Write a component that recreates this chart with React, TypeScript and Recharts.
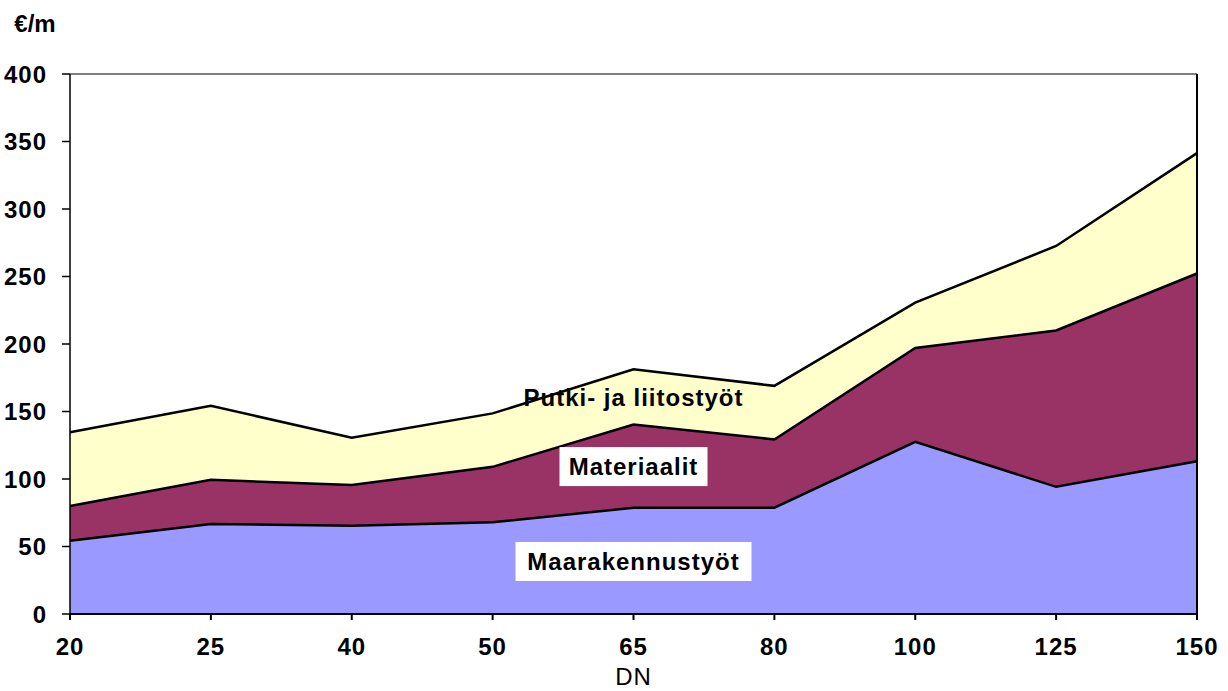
import React from "react";
import {
  AreaChart,
  Area,
  XAxis,
  YAxis,
  ReferenceLine,
  ReferenceDot,
} from "recharts";

const categories = ["20", "25", "40", "50", "65", "80", "100", "125", "150"];
const maarakennustyot = [54.3, 66.6, 65.4, 67.9, 78.7, 78.7, 127.5, 94.2, 113.2];
const materiaalit = [25.7, 32.8, 30.1, 41.1, 61.7, 50.6, 69.6, 115.8, 139];
const putkityot = [54.7, 54.8, 35, 39.6, 40.9, 39.7, 33.6, 62.6, 89.2];
const yTicks = [0, 50, 100, 150, 200, 250, 300, 350, 400];

const data = categories.map((dn, i) => ({
  dn,
  maara: maarakennustyot[i],
  mat: materiaalit[i],
  putki: putkityot[i],
}));

const FONT = "Arial, 'Liberation Sans', sans-serif";
const series = [
  { key: "maara", fill: "#9999ff" },
  { key: "mat", fill: "#993366" },
  { key: "putki", fill: "#ffffcc" },
];

const boxLabel = (text: string, w: number, boxed: boolean) => (props: any) => {
  const { cx, cy } = props;
  return (
    <g>
      {boxed && (
        <rect x={cx - w / 2} y={cy - 19.5} width={w} height={39} fill="#ffffff" />
      )}
      <text
        x={cx}
        y={cy}
        textAnchor="middle"
        dominantBaseline="central"
        fontFamily={FONT}
        fontWeight="bold"
        fontSize={24}
        letterSpacing={1}
        fill="#000"
      >
        {text}
      </text>
    </g>
  );
};

export default function App() {
  return (
    <div style={{ position: "absolute", left: 0, top: 0, background: "#fff" }}>
      <AreaChart
        width={1228}
        height={691}
        data={data}
        margin={{ top: 74, right: 31, bottom: 0, left: 0 }}
        style={{ fontFamily: FONT }}
      >
        <XAxis
          dataKey="dn"
          height={77}
          tickSize={6}
          tickMargin={18}
          stroke="#000"
          strokeWidth={2}
          tick={{ fill: "#000", fontSize: 24, fontWeight: "bold", letterSpacing: 1 }}
          label={{
            value: "DN",
            position: "insideBottom",
            offset: 6,
            fill: "#000",
            fontSize: 24,
            letterSpacing: 1,
          }}
        />
        <YAxis
          domain={[0, 400]}
          ticks={yTicks}
          width={70}
          tickSize={8}
          tickMargin={15}
          stroke="#000"
          strokeWidth={1.5}
          interval={0}
          tick={{ fill: "#000", fontSize: 24, fontWeight: "bold", letterSpacing: 1 }}
          label={{
            value: "€/m",
            position: "top",
            offset: 42,
            fill: "#000",
            fontSize: 24,
            fontWeight: "bold",
          }}
        />
        {/* filled stack */}
        {series.map((s) => (
          <Area
            key={s.key}
            type="linear"
            dataKey={s.key}
            stackId="fill"
            fill={s.fill}
            fillOpacity={1}
            stroke="none"
            isAnimationActive={false}
          />
        ))}
        {/* same stack again, outlines only, drawn on top */}
        {series.map((s) => (
          <Area
            key={s.key + "-line"}
            type="linear"
            dataKey={s.key}
            stackId="line"
            fill="none"
            stroke="#000"
            strokeWidth={2.5}
            isAnimationActive={false}
          />
        ))}
        <ReferenceLine y={400} stroke="#000" strokeWidth={1} />
        <ReferenceLine x="150" stroke="#000" strokeWidth={2} />
        <ReferenceDot x="65" y={160.6} r={0} shape={boxLabel("Putki- ja liitostyöt", 0, false)} />
        <ReferenceDot x="65" y={109.2} r={0} shape={boxLabel("Materiaalit", 148, true)} />
        <ReferenceDot x="65" y={38.9} r={0} shape={boxLabel("Maarakennustyöt", 236, true)} />
      </AreaChart>
    </div>
  );
}
